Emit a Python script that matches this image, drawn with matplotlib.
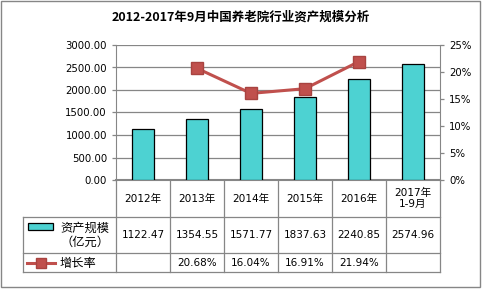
import matplotlib.pyplot as plt
import numpy as np
from matplotlib.lines import Line2D
from matplotlib.patches import Rectangle

plt.rcParams["font.family"] = ["DejaVu Sans", "Noto Sans CJK SC"]

# data
years = ["2012年", "2013年", "2014年", "2015年", "2016年", "2017年\n1-9月"]
assets = [1122.47, 1354.55, 1571.77, 1837.63, 2240.85, 2574.96]
growth = [np.nan, 20.68, 16.04, 16.91, 21.94, np.nan]
asset_label = "资产规模\n（亿元）"
growth_label = "增长率"
title = "2012-2017年9月中国养老院行业资产规模分析"

W, H = 482, 289
bar_color = "#4DD2D2"
line_color = "#C0504D"
grid_color = "#868686"


def fx(x):
    return x / W


def fy(y):
    return 1 - y / H


fig = plt.figure(figsize=(W / 100, H / 100), dpi=100)

# outer border
fig.add_artist(Rectangle((fx(1), fy(287)), fx(479), 286 / H, transform=fig.transFigure,
                         fill=False, edgecolor=grid_color, linewidth=1))

fig.text(0.5, fy(17), title, ha="center", va="center", fontsize=9, fontweight="bold",
         family=["Noto Sans CJK SC", "DejaVu Sans"])

left, right, top, bottom = 116, 440, 45, 180
ax = fig.add_axes([fx(left), fy(bottom), (right - left) / W, (bottom - top) / H])
x = np.arange(len(years))
ax.bar(x, assets, width=0.41, color=bar_color, edgecolor="black", linewidth=0.9, zorder=3)
ax.set_xlim(-0.5, len(years) - 0.5)
ax.set_ylim(0, 3000)
ax.set_yticks(np.arange(0, 3001, 500))
ax.set_yticklabels([f"{v:.2f}" for v in np.arange(0, 3001, 500)])
ax.set_xticks([])
ax.grid(axis="y", color=grid_color, linewidth=0.9, zorder=0)
ax.tick_params(axis="y", labelsize=7.3, length=3, color=grid_color, width=0.9)
for s in ["top", "right"]:
    ax.spines[s].set_visible(False)
ax.spines["left"].set_color(grid_color)
ax.spines["bottom"].set_color(grid_color)
ax.spines["bottom"].set_linewidth(1.5)

ax2 = ax.twinx()
ax2.plot(x, growth, color=line_color, linewidth=2.2, marker="s", markersize=8,
         markerfacecolor=line_color, markeredgecolor="#A84340", zorder=4)
ax2.set_ylim(0, 25)
ax2.set_yticks(np.arange(0, 26, 5))
ax2.set_yticklabels([f"{v}%" for v in range(0, 26, 5)])
ax2.tick_params(axis="y", labelsize=7.3, length=3, color=grid_color, width=0.9)
for s in ["top", "left", "bottom"]:
    ax2.spines[s].set_visible(False)
ax2.spines["right"].set_color(grid_color)

# data table
cw = (right - left) / len(years)
rows = [180, 217, 253, 272]
tl = 23


def hline(y, x0, x1):
    fig.add_artist(Line2D([fx(x0), fx(x1)], [fy(y), fy(y)], color=grid_color, linewidth=0.9))


def vline(x0, y0, y1):
    fig.add_artist(Line2D([fx(x0), fx(x0)], [fy(y0), fy(y1)], color=grid_color, linewidth=0.9))


hline(rows[1], tl, right)
hline(rows[2], tl, right)
hline(rows[3], tl, right)
vline(tl, rows[1], rows[3])
for i in range(len(years) + 1):
    vline(left + i * cw, rows[0], rows[3])

for i, yr in enumerate(years):
    cx = fx(left + (i + 0.5) * cw)
    fig.text(cx, fy((rows[0] + rows[1]) / 2), yr, ha="center", va="center",
             fontsize=7.6, linespacing=1.15)
    fig.text(cx, fy((rows[1] + rows[2]) / 2), f"{assets[i]:.2f}", ha="center",
             va="center", fontsize=7.5)
    if not np.isnan(growth[i]):
        fig.text(cx, fy((rows[2] + rows[3]) / 2), f"{growth[i]:.2f}%", ha="center",
                 va="center", fontsize=7.5)

# legend keys inside table
fig.add_artist(Rectangle((fx(28), fy(230)), 25 / W, 7 / H, transform=fig.transFigure,
                         facecolor=bar_color, edgecolor="black", linewidth=0.9))
fig.text(fx(85), fy(235), asset_label, ha="center", va="center", fontsize=8.8,
         linespacing=1.1, family=["Noto Sans CJK SC"])
fig.add_artist(Line2D([fx(27), fx(55)], [fy(263), fy(263)], color=line_color, linewidth=2.2,
                      transform=fig.transFigure))
fig.add_artist(Line2D([fx(41)], [fy(263)], color=line_color, marker="s", markersize=7,
                      markeredgecolor="#A84340", transform=fig.transFigure))
fig.text(fx(60), fy(263), growth_label, ha="left", va="center", fontsize=8.8,
         family=["Noto Sans CJK SC"])

fig.savefig("out.png", dpi=100)
